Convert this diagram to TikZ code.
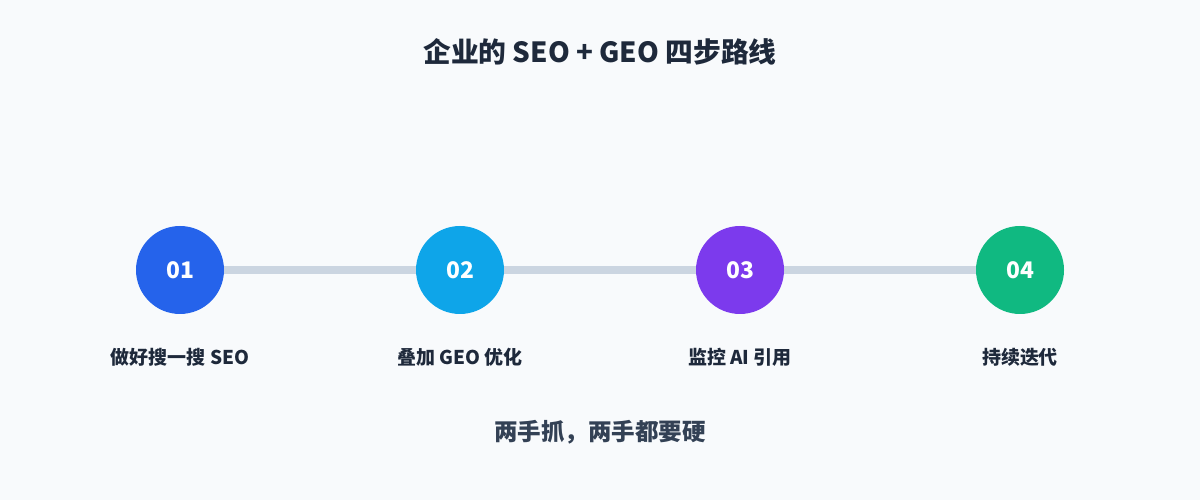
\documentclass[tikz,border=0pt]{standalone}
\usepackage{fontspec}
\setmainfont{Noto Sans CJK SC}
\usetikzlibrary{positioning}
\definecolor{bgc}{HTML}{F8FAFC}
\definecolor{txt}{HTML}{1E293B}
\definecolor{sub}{HTML}{334155}
\definecolor{track}{HTML}{CBD5E1}
\definecolor{cone}{HTML}{2563EB}
\definecolor{ctwo}{HTML}{0EA5E9}
\definecolor{cthree}{HTML}{7C3AED}
\definecolor{cfour}{HTML}{10B981}
\tikzset{
  stepdot/.style={circle, minimum size=1.76cm, inner sep=0pt, text=white, font=\fontsize{13}{15}\selectfont\bfseries},
  steplabel/.style={text=txt, font=\fontsize{10.8}{12}\selectfont\bfseries}
}
\begin{document}
\begin{tikzpicture}
\fill[bgc] (0,0) rectangle (24,10);
\useasboundingbox (0,0) rectangle (24,10);

\node[text=txt, font=\fontsize{15.8}{18}\selectfont\bfseries] (title) at (12,8.96) {企业的 SEO + GEO 四步路线};

\coordinate (s1) at (3.6,4.6);
\coordinate (s4) at (20.4,4.6);
\draw[track, line width=4.5pt] (s1) -- (s4);

\node[stepdot, fill=cone] (n1) at (3.6,4.6) {01};
\node[stepdot, fill=ctwo] (n2) at (9.2,4.6) {02};
\node[stepdot, fill=cthree] (n3) at (14.8,4.6) {03};
\node[stepdot, fill=cfour] (n4) at (20.4,4.6) {04};

\node[steplabel, below=0.55cm of n1] (l1) {做好搜一搜 SEO};
\node[steplabel, below=0.55cm of n2] (l2) {叠加 GEO 优化};
\node[steplabel, below=0.55cm of n3] (l3) {监控 AI 引用};
\node[steplabel, below=0.55cm of n4] (l4) {持续迭代};

\node[text=sub, font=\fontsize{13.4}{15}\selectfont\bfseries] (motto) at (12,1.36) {两手抓，两手都要硬};
\end{tikzpicture}
\end{document}
